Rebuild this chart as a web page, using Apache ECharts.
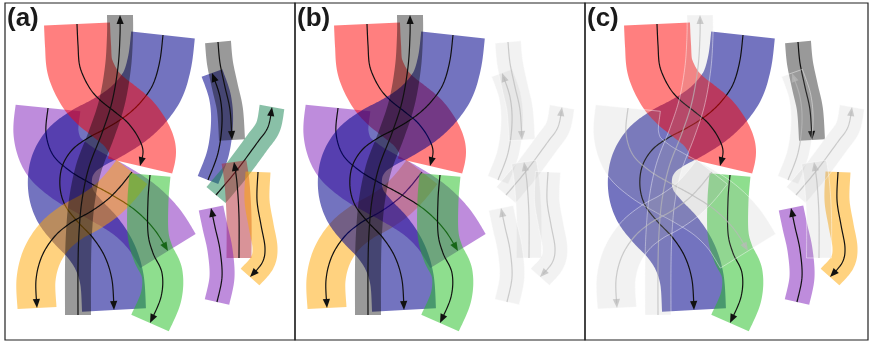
<!DOCTYPE html>
<html><head><meta charset="utf-8">
<script src="https://cdn.jsdelivr.net/npm/echarts@6/dist/echarts.min.js"></script>
<style>html,body{margin:0;padding:0;background:#fff}#c{width:870px;height:341px}</style>
</head><body><div id="c"></div>
<script>
// ---- data (panel-(a) pixel space) ----
const panelLabels = ['(a)', '(b)', '(c)'];
const ribbonNames = ['purple','blueS','red','orange','gray','green','blueSmall','graySmall','teal','rose','purpleSmall','orangeSmall'];
const ribbonWidths = [65, 64, 66, 39, 26, 41, 22, 26, 25, 25, 25, 25];
const pathPurple = [[48,108],[46,133],[53,155],[70,171],[90,183],[112,195],[135,210],[154,229],[168,251]];
const pathBlueS = [[163,35],[160,60],[154,82],[145,97],[133,110],[120,120],[105,129],[88,138],[72,150],[62,167],[60,187],[65,205],[77,221],[93,238],[105,257],[112,280],[114,310]];
const pathRed = [[77,24],[78,45],[80,67],[89,87],[100,100],[115,112],[128,123],[138,137],[143,151],[140,166]];
const pathOrange = [[132,172],[120,187],[107,200],[90,212],[72,222],[55,236],[42,256],[36,280],[37,308]];
const pathGray = [[78,315],[78,267],[79,233],[82,200],[89,167],[102,133],[112,102],[118,67],[120,35],[120,15]];
const pathGreen = [[150,175],[148,200],[148,233],[153,253],[162,273],[161,297],[150,323]];
const pathBlueSmall = [[208,180],[218,153],[222,123],[220,97],[212,73]];
const pathGraySmall = [[218,42],[220,63],[225,87],[230,110],[232,140]];
const pathTeal = [[216,195],[237,170],[257,143],[268,127],[272,107]];
const pathRose = [[239,258],[239,217],[237,183],[234,162]];
const pathPurpleSmall = [[217,302],[222,277],[220,250],[215,227],[211,208]];
const pathOrangeSmall = [[258,172],[257,200],[261,225],[265,248],[262,263],[250,277]];
const ribbonPaths = [pathPurple, pathBlueS, pathRed, pathOrange, pathGray, pathGreen,
  pathBlueSmall, pathGraySmall, pathTeal, pathRose, pathPurpleSmall, pathOrangeSmall];
// which ribbons are highlighted (coloured) in each panel
const litA = ribbonNames.slice();
const litB = ['purple','blueS','red','orange','gray','green'];
const litC = ['blueS','red','green','graySmall','orangeSmall','purpleSmall'];
// drawing order in each panel
const orderA = ['purple','blueS','red','orange','gray','green','blueSmall','graySmall','teal','rose','purpleSmall','orangeSmall'];
const orderB = ['orange','purple','red','blueS','gray','green','blueSmall','graySmall','teal','rose','purpleSmall','orangeSmall'];
const orderC = ['blueS','red','green','graySmall','orangeSmall','purpleSmall','purple','gray','orange','blueSmall','teal','rose'];

// ---- styles ----
const fillColors = {
  purple: 'rgba(125,25,185,0.5)', blueS: 'rgba(0,0,139,0.55)', red: 'rgba(255,0,0,0.5)',
  orange: 'rgba(255,165,0,0.5)', gray: 'rgba(0,0,0,0.4)', green: 'rgba(30,190,30,0.5)',
  blueSmall: 'rgba(0,0,139,0.55)', graySmall: 'rgba(0,0,0,0.4)', teal: 'rgba(20,130,80,0.5)',
  rose: 'rgba(180,40,50,0.5)', purpleSmall: 'rgba(125,25,185,0.5)', orangeSmall: 'rgba(255,165,0,0.5)'
};
const fadedFill = 'rgba(170,170,170,0.15)';
const fadedEdge = 'rgba(255,255,255,0.55)';
const fadedLine = 'rgba(185,185,185,0.7)';
const darkLine = '#111';

function catmull(pts, n) {
  const out = [], m = pts.length;
  for (let i = 0; i < m - 1; i++) {
    const p0 = pts[Math.max(i - 1, 0)], p1 = pts[i], p2 = pts[i + 1], p3 = pts[Math.min(i + 2, m - 1)];
    for (let k = 0; k < n; k++) {
      const t = k / n, t2 = t * t, t3 = t2 * t;
      out.push([0, 1].map(d => 0.5 * (2 * p1[d] + (-p0[d] + p2[d]) * t +
        (2 * p0[d] - 5 * p1[d] + 4 * p2[d] - p3[d]) * t2 +
        (-p0[d] + 3 * p1[d] - 3 * p2[d] + p3[d]) * t3)));
    }
  }
  out.push(pts[m - 1].slice());
  return out;
}
function norm(v) { const l = Math.hypot(v[0], v[1]) || 1; return [v[0] / l, v[1] / l]; }

function makeRenderer(path, width, faded, fill) {
  return function (params, api) {
    if (params.dataIndex !== 0) return null;
    const pts = path.map(p => api.coord(p));
    const hw = api.size([width, 0])[0] / 2;
    const s = catmull(pts, 14);
    const N = s.length;
    const left = [], right = [];
    for (let i = 0; i < N; i++) {
      const a = s[Math.max(i - 1, 0)], b = s[Math.min(i + 1, N - 1)];
      const t = norm([b[0] - a[0], b[1] - a[1]]);
      const nx = -t[1], ny = t[0];
      left.push([s[i][0] + nx * hw, s[i][1] + ny * hw]);
      right.push([s[i][0] - nx * hw, s[i][1] - ny * hw]);
    }
    const poly = left.concat(right.reverse());
    // arrow at end
    const E = s[N - 1], L = 9, AW = 3.6;
    let j = N - 1;
    while (j > 0 && Math.hypot(E[0] - s[j][0], E[1] - s[j][1]) < L) j--;
    const d = norm([E[0] - s[j][0], E[1] - s[j][1]]);
    const B = [E[0] - d[0] * L, E[1] - d[1] * L];
    const arrow = [E, [B[0] - d[1] * AW, B[1] + d[0] * AW], [B[0] + d[1] * AW, B[1] - d[0] * AW]];
    const line = s.slice(0, j + 1);
    line.push([E[0] - d[0] * L * 0.5, E[1] - d[1] * L * 0.5]);
    const lc = faded ? fadedLine : darkLine;
    return {
      type: 'group',
      children: [
        { type: 'polygon', shape: { points: poly },
          style: faded ? { fill: fadedFill, stroke: fadedEdge, lineWidth: 0.8 } : { fill: fill, stroke: null } },
        { type: 'polyline', shape: { points: line }, style: { stroke: lc, lineWidth: 1.2, fill: null } },
        { type: 'polygon', shape: { points: arrow }, style: { fill: lc, stroke: null } }
      ]
    };
  };
}

const panels = [
  { left: 5, width: 290, xmax: 295, lit: litA, order: orderA, labelLeft: 7 },
  { left: 295, width: 290, xmax: 295, lit: litB, order: orderB, labelLeft: 297 },
  { left: 585, width: 283, xmax: 288, lit: litC, order: orderC, labelLeft: 587 }
];
const grid = [], xAxis = [], yAxis = [], series = [], title = [];
panels.forEach((p, pi) => {
  grid.push({ left: p.left, top: 3, width: p.width, height: 337, show: true,
    borderColor: '#222', borderWidth: 1.2, backgroundColor: 'transparent' });
  xAxis.push({ type: 'value', gridIndex: pi, min: 5, max: p.xmax, show: false });
  yAxis.push({ type: 'value', gridIndex: pi, min: 3, max: 340, inverse: true, show: false });
  title.push({ text: panelLabels[pi], left: p.labelLeft, top: 6, padding: 0,
    textStyle: { fontSize: 26, fontWeight: 'bold', fontFamily: 'Liberation Sans, Arial, sans-serif', color: '#1a1a1a' } });
  const lit = p.order.filter(n => p.lit.includes(n));
  const dim = p.order.filter(n => !p.lit.includes(n));
  lit.concat(dim).forEach(name => {
    const idx = ribbonNames.indexOf(name);
    const faded = !p.lit.includes(name);
    series.push({
      type: 'custom', name: name, xAxisIndex: pi, yAxisIndex: pi, clip: true,
      data: ribbonPaths[idx],
      renderItem: makeRenderer(ribbonPaths[idx], ribbonWidths[idx], faded, fillColors[name]),
      silent: true
    });
  });
});

const chart = echarts.init(document.getElementById('c'), null, { renderer: 'canvas' });
chart.setOption({ animation: false, backgroundColor: '#fff', title, grid, xAxis, yAxis, series });
</script></body></html>
